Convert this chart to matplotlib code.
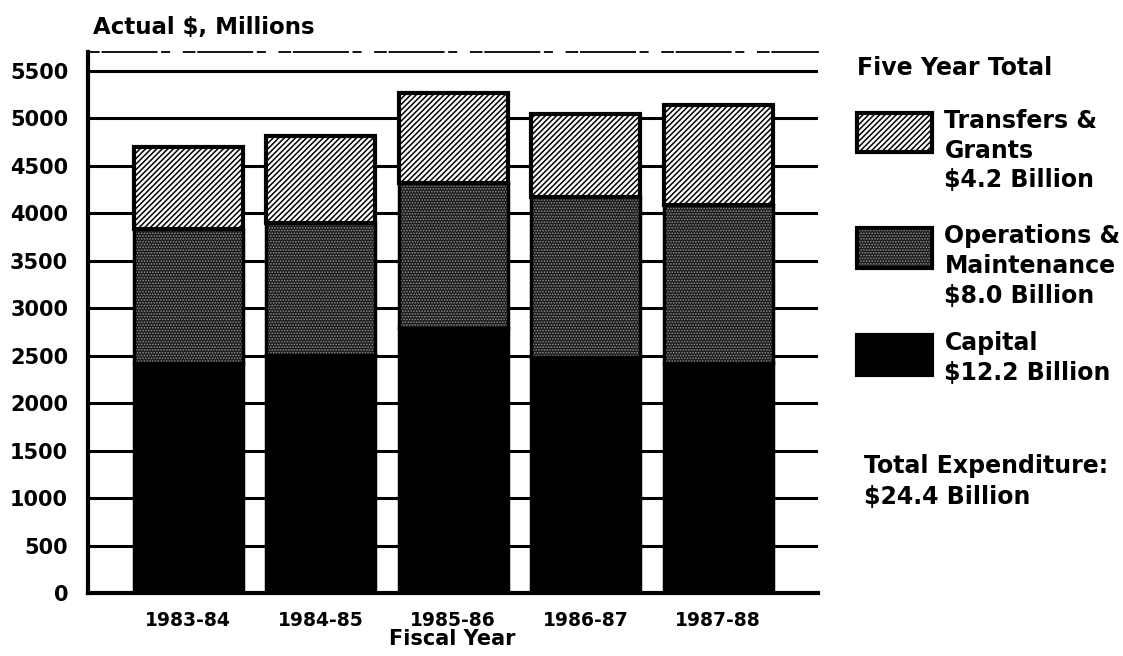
# stacked bar chart of expenditure by fiscal year
import numpy as np
import matplotlib.pyplot as plt
from matplotlib.patches import Rectangle

plt.rcParams['font.family'] = ['DejaVu Sans']
plt.rcParams['font.weight'] = 'bold'

years = ['1983-84', '1984-85', '1985-86', '1986-87', '1987-88']
capital = [2420, 2510, 2790, 2490, 2420]
operations = [1410, 1390, 1530, 1680, 1670]
transfers = [870, 910, 950, 870, 1050]

legend_names = ['Transfers &\nGrants\n$4.2 Billion',
                'Operations &\nMaintenance\n$8.0 Billion',
                'Capital\n$12.2 Billion']
total_text = 'Total Expenditure:\n$24.4 Billion'

yticks = np.arange(0, 5501, 500)

OPS_FACE = '#1c1c1c'
OPS_DOTS = '#8c8c8c'

fig = plt.figure(figsize=(11.23, 6.56), dpi=100)
ax = fig.add_axes([0.078, 0.096, 0.65, 0.825])

x = np.arange(len(years))
w = 0.82
cap = np.array(capital)
ops = np.array(operations)
trn = np.array(transfers)

# capital: solid black
ax.bar(x, cap, w, color='black', edgecolor='black', linewidth=2.5, zorder=3)

# operations: dark stipple
with plt.rc_context({'hatch.linewidth': 0.8}):
    ax.bar(x, ops, w, bottom=cap, color=OPS_FACE, edgecolor=OPS_DOTS,
           hatch='......', linewidth=0, zorder=3)
ax.bar(x, ops, w, bottom=cap, fill=False, edgecolor='black', linewidth=2.5, zorder=4)

# transfers: diagonal hatch
with plt.rc_context({'hatch.linewidth': 1.1}):
    ax.bar(x, trn, w, bottom=cap + ops, color='white', edgecolor='black',
           hatch='//////', linewidth=0, zorder=3)
ax.bar(x, trn, w, bottom=cap + ops, fill=False, edgecolor='black', linewidth=3, zorder=4)

ax.set_xlim(-0.76, 4.75)
ax.set_ylim(0, 5700)
ax.set_yticks(yticks)
ax.set_xticks(x)
ax.set_xticklabels(years, fontsize=13.5, fontweight='bold')
ax.set_yticklabels([str(v) for v in yticks], fontsize=15, fontweight='bold')
ax.tick_params(axis='y', length=0, pad=14)
ax.tick_params(axis='x', length=0, pad=13)

for v in yticks[1:]:
    ax.axhline(v, color='black', linewidth=2.2, zorder=1)

ax.spines['right'].set_visible(False)
ax.spines['left'].set_linewidth(3)
ax.spines['bottom'].set_linewidth(3)
ax.spines['top'].set_linewidth(1.3)
ax.spines['top'].set_linestyle((0, (6, 2, 30, 3, 4, 8)))

ax.set_xlabel('Fiscal Year', fontsize=15, fontweight='bold', labelpad=-1)
fig.text(0.083, 0.958, 'Actual $, Millions', fontsize=16.5, fontweight='bold',
         va='center', ha='left')

# legend block
fig.text(0.763, 0.896, 'Five Year Total', fontsize=17, fontweight='bold',
         va='center', ha='left')

box_x, box_w, box_h = 0.763, 0.067, 0.06
box_tops = [0.828, 0.652, 0.489]
faces = ['white', OPS_FACE, 'black']
hatches = ['//////', '......', None]
hatch_cols = ['black', OPS_DOTS, 'black']
hatch_lws = [1.1, 0.8, 1.0]
for top, fc, ht, hc, hl, name in zip(box_tops, faces, hatches, hatch_cols,
                                     hatch_lws, legend_names):
    with plt.rc_context({'hatch.linewidth': hl}):
        fig.add_artist(Rectangle((box_x, top - box_h), box_w, box_h,
                                 transform=fig.transFigure, facecolor=fc,
                                 edgecolor=hc, hatch=ht, linewidth=0))
    fig.add_artist(Rectangle((box_x, top - box_h), box_w, box_h,
                             transform=fig.transFigure, fill=False,
                             edgecolor='black', linewidth=3))
    fig.text(box_x + box_w + 0.011, top + 0.006, name, fontsize=17,
             fontweight='bold', va='top', ha='left', linespacing=1.3)

fig.text(0.769, 0.308, total_text, fontsize=17, fontweight='bold',
         va='top', ha='left', linespacing=1.35)

fig.savefig('out.png', dpi=100, facecolor='white')
